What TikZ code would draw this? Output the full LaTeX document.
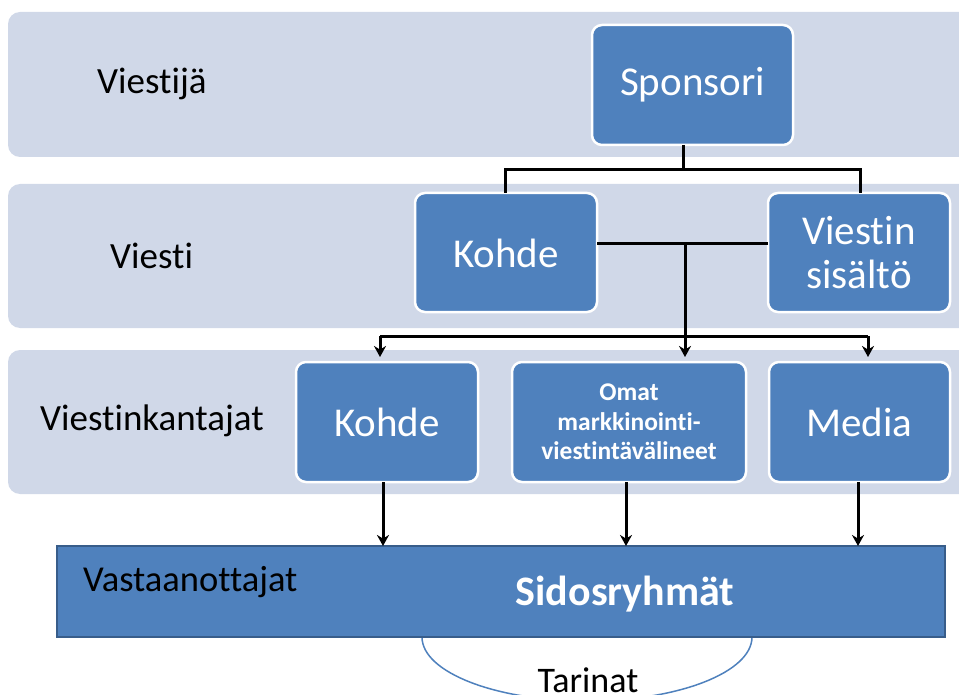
\documentclass[tikz,border=0pt]{standalone}
\usepackage{fontspec}
\setmainfont{Carlito}[Ligatures={NoCommon,NoContextual}]
\usetikzlibrary{arrows.meta}
\newcommand{\nolig}{\kern0pt}
\definecolor{band}{HTML}{D0D8E8}
\definecolor{boxblue}{HTML}{4F81BD}
\definecolor{barborder}{HTML}{385D8A}
\tikzset{
  bandbox/.style={fill=band, draw=none, rounded corners=12pt},
  bluebox/.style={fill=boxblue, draw=white, line width=2.5pt, rounded corners=10pt},
  boxtext/.style={text=white, align=center, font=\fontsize{41}{44}\selectfont},
  rowlabel/.style={anchor=west, text=black, font=\fontsize{37}{40}\selectfont, inner sep=0pt},
  conn/.style={line width=3pt, black},
  arr/.style={conn, -{Stealth[length=11pt,width=12pt]}}
}
\begin{document}
\begin{tikzpicture}[x=1pt,y=-1pt]
\useasboundingbox (0,0) rectangle (959,695);
\clip (0,0) rectangle (959,695);
% bands
\path[bandbox] (8,12) rectangle (990,157);
\path[bandbox] (8,184) rectangle (990,328);
\path[bandbox] (8,350) rectangle (990,494);
% row labels
\node[rowlabel] (l1) at (97,84) {Viest\nolig ijä};
\node[rowlabel] (l2) at (110,256) {Viest\nolig i};
\node[rowlabel] (l3) at (40,421) {Viest\nolig inkantajat};
% tarinat ellipse
\draw[boxblue, line width=1.5pt, fill=white] (587,637) ellipse [x radius=165, y radius=64];
\node[font=\fontsize{36}{40}\selectfont, text=black] (tar) at (588,680) {Tarinat};
% boxes
\path[bluebox] (592,25) rectangle (793,145);
\node[boxtext] (spon) at (692.5,85) {Sponsori};
\coordinate (sponS) at (683,145);
\path[bluebox] (415,193) rectangle (597,312);
\node[boxtext] (k1) at (506,253) {Kohde};
\coordinate (k1N) at (505,193);
\coordinate (k1E) at (597,244);
\path[bluebox] (768,193) rectangle (950,312);
\node[boxtext] (vs) at (859,253) {Viest\nolig in\\sisältö};
\coordinate (vsN) at (860,193);
\coordinate (vsW) at (768,244);
\path[bluebox] (296,362) rectangle (478,482);
\node[boxtext] (k2) at (387,422) {Kohde};
\path[bluebox] (512,362) rectangle (746,482);
\node[boxtext, font=\bfseries\fontsize{25.5}{29.5}\selectfont] (om) at (629,422) {Omat\\markkinoint\nolig i-\\viest\nolig intävälineet};
\path[bluebox] (769,362) rectangle (950,482);
\node[boxtext] (me) at (859.5,422) {Media};
% bar
\draw[fill=boxblue, draw=barborder, line width=2pt] (57,546) rectangle (945,637);
\node[rowlabel, font=\fontsize{36.5}{40}\selectfont] (l4) at (83,582) {Vastaanottajat};
\node[text=white, font=\bfseries\fontsize{42}{46}\selectfont] (sid) at (625,594) {Sidosryhmät};
% connectors
\draw[conn] (sponS) -- (683,170) coordinate (j1);
\draw[conn] (k1N) |- (j1) -| (vsN);
\draw[conn] (k1E) -- (vsW);
\coordinate (j2) at (685,244);
\coordinate (j3) at (685,336);
\draw[conn] (j2) -- (j3);
\draw[conn] (380,336) -- (868,336);
\coordinate (t1) at (380,357);
\coordinate (t2) at (685,357);
\coordinate (t3) at (868,357);
\draw[arr] (380,336) -- (t1);
\draw[arr] (j3) -- (t2);
\draw[arr] (868,336) -- (t3);
\draw[arr] (383,482) -- (383,546);
\draw[arr] (626,482) -- (626,546);
\draw[arr] (858,482) -- (858,546);
\end{tikzpicture}
\end{document}
